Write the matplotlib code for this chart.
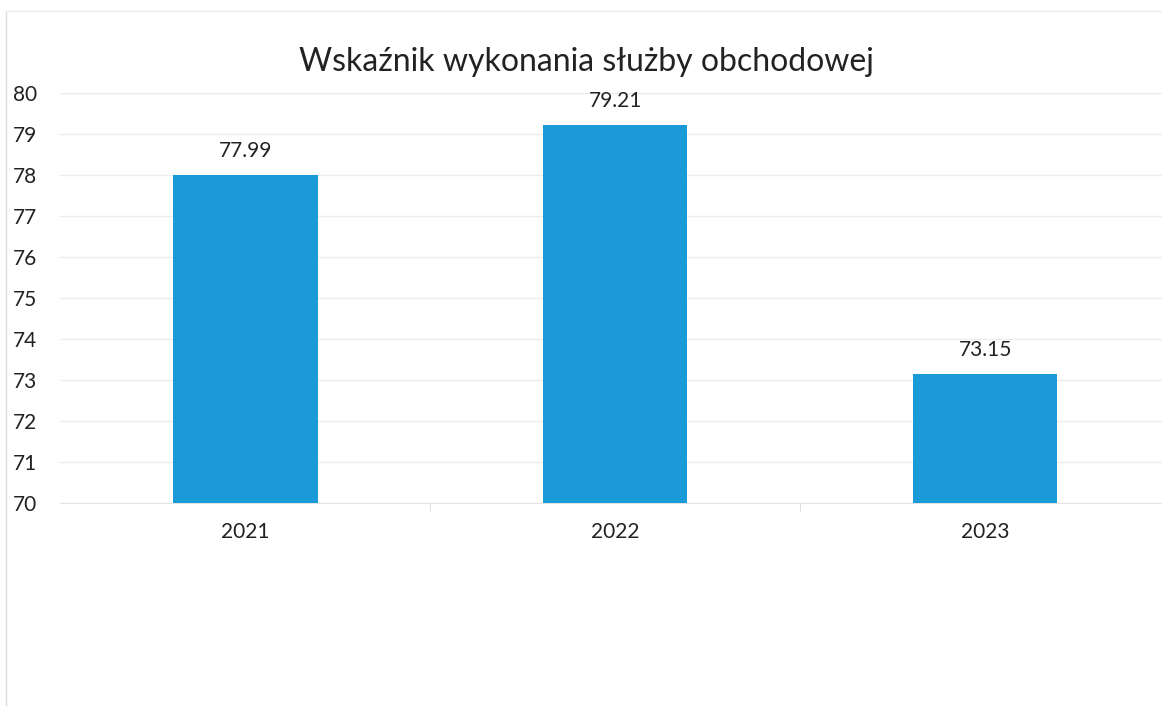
import matplotlib.pyplot as plt
from matplotlib.lines import Line2D

years = ["2021", "2022", "2023"]
values = [77.99, 79.21, 73.15]
y_ticks = [70, 71, 72, 73, 74, 75, 76, 77, 78, 79, 80]

plt.rcParams['font.family'] = ['Lato', 'DejaVu Sans']

fig = plt.figure(figsize=(11.62, 7.06), dpi=100)
ax = fig.add_axes([0.052, 0.2875, 0.948, 0.581])

x = list(range(len(years)))
bars = ax.bar(x, [v - 70 for v in values], bottom=70, width=0.39,
              color="#1b9ad8", zorder=3)

for xi, v in zip(x, values):
    ax.annotate(f"{v:.2f}", (xi, v), xytext=(0, 10), textcoords="offset points",
                ha="center", va="bottom", fontsize=15, color="#222222")

ax.set_xlim(-0.5, 2.478)
ax.set_ylim(70, 80)
ax.set_yticks(y_ticks)
ax.set_xticks(x)
ax.set_xticklabels(years)
ax.set_xticks([0.5, 1.5], minor=True)
ax.tick_params(axis="x", which="major", length=0, pad=14, labelsize=15, labelcolor="#222222")
ax.tick_params(axis="x", which="minor", length=6, color="#d8d8d8")
ax.tick_params(axis="y", length=0, pad=17, labelsize=15, labelcolor="#222222")

ax.grid(axis="y", color="#ececec", linewidth=1, zorder=0)
for s in ["top", "right", "left"]:
    ax.spines[s].set_visible(False)
ax.spines["bottom"].set_color("#e4e4e4")

fig.text(0.505, 0.912, "Wskaźnik wykonania służby obchodowej",
         ha="center", va="center", fontsize=23, color="#222222")

# faint border of the chart frame
fig.add_artist(Line2D([0.005, 0.005], [0.0, 0.985], color="#dcdcdc", linewidth=1))
fig.add_artist(Line2D([0.005, 1.0], [0.985, 0.985], color="#ececec", linewidth=1))

fig.savefig("out.png", dpi=100)
